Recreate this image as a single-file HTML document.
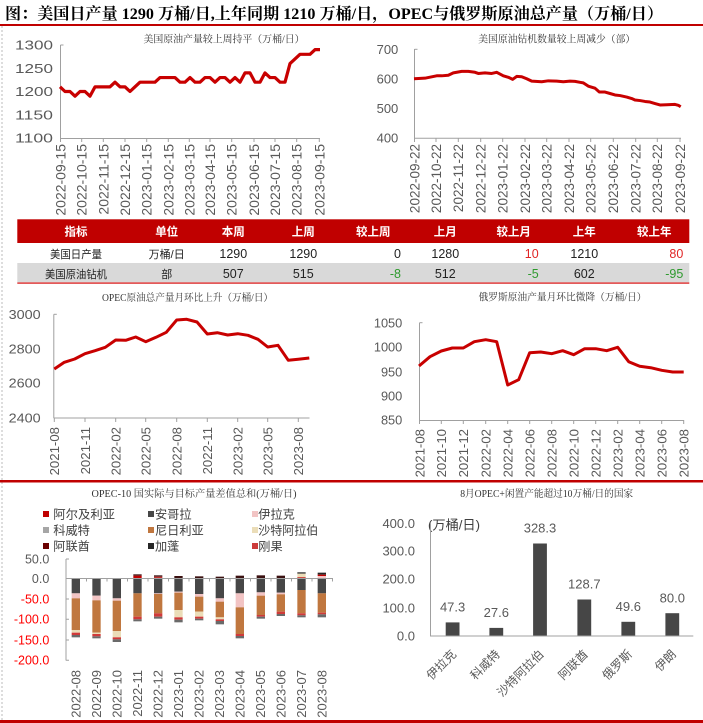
<!DOCTYPE html>
<html><head><meta charset="utf-8">
<style>
html,body{margin:0;padding:0;background:#fff;}
svg{display:block;}
.s{font-family:"Liberation Sans","Noto Sans CJK SC",sans-serif;}
.sf{font-family:"Liberation Serif","Noto Serif CJK SC",serif;}
</style></head>
<body>
<svg width="703" height="723" viewBox="0 0 703 723" xmlns="http://www.w3.org/2000/svg">
<rect x="0" y="0" width="703" height="723" fill="#fff"/>
<!-- Title -->
<text class="sf" x="5" y="19" font-size="16" font-weight="bold" fill="#000" textLength="658" lengthAdjust="spacingAndGlyphs">图：美国日产量 1290 万桶/日,上年同期 1210 万桶/日，OPEC与俄罗斯原油总产量（万桶/日）</text>
<rect x="0" y="24" width="703" height="2" fill="#C00000"/>
<line x1="2" y1="26" x2="2" y2="720" stroke="#BBBBBB" stroke-width="1" stroke-dasharray="2,2"/>

<!-- ============ Top-left chart ============ -->
<text class="sf" x="224" y="42.5" font-size="10" fill="#333" text-anchor="middle" textLength="161" lengthAdjust="spacingAndGlyphs">美国原油产量较上周持平（万桶/日）</text>
<g class="s" font-size="13" fill="#595959" text-anchor="end">
<text x="53" y="49.7" textLength="38" lengthAdjust="spacingAndGlyphs">1300</text>
<text x="53" y="72.9" textLength="38" lengthAdjust="spacingAndGlyphs">1250</text>
<text x="53" y="96.2" textLength="38" lengthAdjust="spacingAndGlyphs">1200</text>
<text x="53" y="119.4" textLength="38" lengthAdjust="spacingAndGlyphs">1150</text>
<text x="53" y="142.7" textLength="38" lengthAdjust="spacingAndGlyphs">1100</text>
</g>
<g stroke="#A0A0A0" stroke-width="1" fill="none">
<line x1="60.5" y1="45" x2="60.5" y2="138"/>
<line x1="60.5" y1="45" x2="63.5" y2="45"/>
<line x1="60" y1="138.5" x2="320" y2="138.5"/>
<path d="M60.5 138v4M81.7 138v4M103.3 138v4M125 138v4M146.7 138v4M168.3 138v4M189.3 138v4M210 138v4M231.7 138v4M254 138v4M275 138v4M296.7 138v4M319.3 138v4"/>
</g>
<g class="s" font-size="14" fill="#595959" text-anchor="end">
<text transform="translate(60.5,144) rotate(-90)" dy="0.36em">2022-09-15</text>
<text transform="translate(81.7,144) rotate(-90)" dy="0.36em">2022-10-15</text>
<text transform="translate(103.3,144) rotate(-90)" dy="0.36em">2022-11-15</text>
<text transform="translate(125,144) rotate(-90)" dy="0.36em">2022-12-15</text>
<text transform="translate(146.7,144) rotate(-90)" dy="0.36em">2023-01-15</text>
<text transform="translate(168.3,144) rotate(-90)" dy="0.36em">2023-02-15</text>
<text transform="translate(189.3,144) rotate(-90)" dy="0.36em">2023-03-15</text>
<text transform="translate(210,144) rotate(-90)" dy="0.36em">2023-04-15</text>
<text transform="translate(231.7,144) rotate(-90)" dy="0.36em">2023-05-15</text>
<text transform="translate(254,144) rotate(-90)" dy="0.36em">2023-06-15</text>
<text transform="translate(275,144) rotate(-90)" dy="0.36em">2023-07-15</text>
<text transform="translate(296.7,144) rotate(-90)" dy="0.36em">2023-08-15</text>
<text transform="translate(319.3,144) rotate(-90)" dy="0.36em">2023-09-15</text>
</g>
<polyline fill="none" stroke="#C80000" stroke-width="3.2" stroke-linejoin="round" points="60,86.85 65,91.5 70,91.5 75,96.15 80,91.5 85,91.5 90,96.15 95,86.85 100,86.85 105,86.85 110,86.85 115,82.2 120,86.85 125,86.85 130,91.5 135,86.85 140,82.2 145,82.2 150,82.2 155,82.2 160,77.55 165,77.55 170,77.55 175,77.55 180,82.2 185,82.2 190,77.55 195,82.2 200,82.2 205,77.55 210,77.55 215,82.2 220,77.55 225,77.55 230,82.2 235,77.55 240,82.2 245,72.9 250,72.9 255,82.2 260,82.2 265,72.9 270,77.55 275,77.55 280,82.2 285,82.2 290,63.6 295,58.95 300,54.3 305,54.3 310,54.3 315,49.65 320,49.65"/>

<!-- ============ Top-right chart ============ -->
<text class="sf" x="556.7" y="42.5" font-size="10" fill="#333" text-anchor="middle" textLength="157" lengthAdjust="spacingAndGlyphs">美国原油钻机数量较上周减少（部）</text>
<g class="s" font-size="13" fill="#595959" text-anchor="end">
<text x="398.3" y="54">700</text>
<text x="398.3" y="83.5">600</text>
<text x="398.3" y="113">500</text>
<text x="398.3" y="142.4">400</text>
</g>
<g stroke="#A0A0A0" stroke-width="1" fill="none">
<line x1="414.5" y1="49" x2="414.5" y2="138"/>
<line x1="414.5" y1="49.3" x2="417.5" y2="49.3"/>
<line x1="414" y1="138.2" x2="681" y2="138.2"/>
<path d="M414.5 138v4M436 138v4M458.3 138v4M480.7 138v4M502.7 138v4M525 138v4M546.7 138v4M569 138v4M590.7 138v4M613.3 138v4M635.7 138v4M657.3 138v4M680 138v4"/>
</g>
<g class="s" font-size="13.5" fill="#595959" text-anchor="end">
<text transform="translate(414.5,144) rotate(-90)" dy="0.36em">2022-09-22</text>
<text transform="translate(436,144) rotate(-90)" dy="0.36em">2022-10-22</text>
<text transform="translate(458.3,144) rotate(-90)" dy="0.36em">2022-11-22</text>
<text transform="translate(480.7,144) rotate(-90)" dy="0.36em">2022-12-22</text>
<text transform="translate(502.7,144) rotate(-90)" dy="0.36em">2023-01-22</text>
<text transform="translate(525,144) rotate(-90)" dy="0.36em">2023-02-22</text>
<text transform="translate(546.7,144) rotate(-90)" dy="0.36em">2023-03-22</text>
<text transform="translate(569,144) rotate(-90)" dy="0.36em">2023-04-22</text>
<text transform="translate(590.7,144) rotate(-90)" dy="0.36em">2023-05-22</text>
<text transform="translate(613.3,144) rotate(-90)" dy="0.36em">2023-06-22</text>
<text transform="translate(635.7,144) rotate(-90)" dy="0.36em">2023-07-22</text>
<text transform="translate(657.3,144) rotate(-90)" dy="0.36em">2023-08-22</text>
<text transform="translate(680,144) rotate(-90)" dy="0.36em">2023-09-22</text>
</g>
<polyline fill="none" stroke="#C80000" stroke-width="3" stroke-linejoin="round" points="414,78.76 425,78.17 436.7,75.81 441.7,75.81 448.3,75.22 453.3,72.87 461.7,71.39 468.3,71.39 475,72.28 478.3,73.46 485,72.87 491.7,73.46 496.7,72.28 503.3,75.81 508.3,77.29 512.7,79.35 516.7,76.4 521.7,76.7 526.7,78.76 531.7,81.12 541.7,81.71 548.3,80.82 556.7,81.12 563.3,81.71 570,81.12 575,81.41 580,82.3 583.3,82.89 588.3,86.13 595,88.19 599.3,92.02 605,92.02 610,93.5 615,94.97 620,95.56 626.7,97.03 631.7,98.51 635,99.98 640,100.57 645,101.45 650,102.04 655,103.51 660,104.99 666.7,104.69 675,104.4 678.3,105.28 680.7,106.76"/>

<!-- ============ Table ============ -->
<rect x="17.3" y="219.3" width="672" height="23.7" fill="#C00000"/>
<rect x="17.3" y="263" width="672" height="19.3" fill="#D9D9D9"/>
<rect x="17.3" y="282.3" width="672" height="1.6" fill="#E04848"/>
<g class="s" font-size="11.5" font-weight="bold" fill="#fff" text-anchor="middle">
<text x="76" y="235.6">指标</text>
<text x="166.7" y="235.6">单位</text>
<text x="233.3" y="235.6">本周</text>
<text x="303.3" y="235.6">上周</text>
<text x="373.3" y="235.6">较上周</text>
<text x="445.3" y="235.6">上月</text>
<text x="513.7" y="235.6">较上月</text>
<text x="584.3" y="235.6">上年</text>
<text x="654.3" y="235.6">较上年</text>
</g>
<g class="s" font-size="11" fill="#222" text-anchor="middle">
<text x="76" y="257.8" textLength="52" lengthAdjust="spacingAndGlyphs">美国日产量</text>
<text x="166.7" y="257.8">万桶/日</text>
<text x="76" y="277.8" textLength="62" lengthAdjust="spacingAndGlyphs">美国原油钻机</text>
<text x="166.7" y="277.8">部</text>
</g>
<g class="s" font-size="12.5" fill="#222" text-anchor="middle">
<text x="233.3" y="258.2">1290</text>
<text x="303.3" y="258.2">1290</text>
<text x="445.3" y="258.2">1280</text>
<text x="584.3" y="258.2">1210</text>
<text x="233.3" y="278.2">507</text>
<text x="303.3" y="278.2">515</text>
<text x="445.3" y="278.2">512</text>
<text x="584.3" y="278.2">602</text>
</g>
<g class="s" font-size="12.5" text-anchor="end">
<text x="401" y="258.2" fill="#222">0</text>
<text x="538.7" y="258.2" fill="#E02525">10</text>
<text x="683.3" y="258.2" fill="#E02525">80</text>
<text x="401" y="278.2" fill="#2E9A2E">-8</text>
<text x="538.7" y="278.2" fill="#2E9A2E">-5</text>
<text x="683.3" y="278.2" fill="#2E9A2E">-95</text>
</g>

<!-- ============ Middle-left chart ============ -->
<text class="sf" x="187.5" y="300.8" font-size="10" fill="#333" text-anchor="middle" textLength="171" lengthAdjust="spacingAndGlyphs">OPEC原油总产量月环比上升（万桶/日）</text>
<g class="s" font-size="13" fill="#595959" text-anchor="end">
<text x="40.7" y="319" textLength="32" lengthAdjust="spacingAndGlyphs">3000</text>
<text x="40.7" y="353.4" textLength="32" lengthAdjust="spacingAndGlyphs">2800</text>
<text x="40.7" y="387.7" textLength="32" lengthAdjust="spacingAndGlyphs">2600</text>
<text x="40.7" y="422.4" textLength="32" lengthAdjust="spacingAndGlyphs">2400</text>
</g>
<g stroke="#A0A0A0" stroke-width="1" fill="none">
<line x1="53.8" y1="314.3" x2="53.8" y2="418"/>
<line x1="53.8" y1="314.3" x2="56.8" y2="314.3"/>
<line x1="53.5" y1="418" x2="309.5" y2="418"/>
<path d="M54.3 418v4M85 418v4M115.7 418v4M145.7 418v4M176.7 418v4M207.3 418v4M237.7 418v4M267.7 418v4M298.3 418v4"/>
</g>
<g class="s" font-size="13.2" fill="#595959" text-anchor="end">
<text transform="translate(54.3,427) rotate(-90)" dy="0.36em">2021-08</text>
<text transform="translate(85,427) rotate(-90)" dy="0.36em">2021-11</text>
<text transform="translate(115.7,427) rotate(-90)" dy="0.36em">2022-02</text>
<text transform="translate(145.7,427) rotate(-90)" dy="0.36em">2022-05</text>
<text transform="translate(176.7,427) rotate(-90)" dy="0.36em">2022-08</text>
<text transform="translate(207.3,427) rotate(-90)" dy="0.36em">2022-11</text>
<text transform="translate(237.7,427) rotate(-90)" dy="0.36em">2023-02</text>
<text transform="translate(267.7,427) rotate(-90)" dy="0.36em">2023-05</text>
<text transform="translate(298.3,427) rotate(-90)" dy="0.36em">2023-08</text>
</g>
<polyline fill="none" stroke="#C80000" stroke-width="3" stroke-linejoin="round" points="54.3,369 64.3,362.3 74.7,359 85,353.7 95,350.7 105.3,347.3 115.7,340 125.7,340.3 135.7,337 145.7,341.7 156,337.3 166.3,332.3 176.7,320 186.7,319.3 197,322 207.3,334 217.3,332.7 227.7,335 237.7,333.7 248,335.3 258,339.3 267.7,347 278,345.3 288.3,360.3 298.3,359.3 309.3,358"/>

<!-- ============ Middle-right chart ============ -->
<text class="sf" x="562.5" y="300.5" font-size="10" fill="#333" text-anchor="middle" textLength="168" lengthAdjust="spacingAndGlyphs">俄罗斯原油产量月环比微降（万桶/日）</text>
<g class="s" font-size="12.8" fill="#595959" text-anchor="end">
<text x="402.3" y="327.3">1050</text>
<text x="402.3" y="351.6">1000</text>
<text x="402.3" y="376.3">950</text>
<text x="402.3" y="400.3">900</text>
<text x="402.3" y="424.6">850</text>
</g>
<g stroke="#A0A0A0" stroke-width="1" fill="none">
<line x1="419.5" y1="322.7" x2="419.5" y2="420.5"/>
<line x1="419.5" y1="322.7" x2="422.5" y2="322.7"/>
<line x1="419" y1="420.5" x2="684" y2="420.5"/>
<path d="M419.5 420v4M441.3 420v4M463.3 420v4M485.7 420v4M507.7 420v4M529.7 420v4M551.7 420v4M573.7 420v4M595.7 420v4M617.7 420v4M639.7 420v4M661.7 420v4M683.7 420v4"/>
</g>
<g class="s" font-size="13.2" fill="#595959" text-anchor="end">
<text transform="translate(419.5,429) rotate(-90)" dy="0.36em">2021-08</text>
<text transform="translate(441.3,429) rotate(-90)" dy="0.36em">2021-10</text>
<text transform="translate(463.3,429) rotate(-90)" dy="0.36em">2021-12</text>
<text transform="translate(485.7,429) rotate(-90)" dy="0.36em">2022-02</text>
<text transform="translate(507.7,429) rotate(-90)" dy="0.36em">2022-04</text>
<text transform="translate(529.7,429) rotate(-90)" dy="0.36em">2022-06</text>
<text transform="translate(551.7,429) rotate(-90)" dy="0.36em">2022-08</text>
<text transform="translate(573.7,429) rotate(-90)" dy="0.36em">2022-10</text>
<text transform="translate(595.7,429) rotate(-90)" dy="0.36em">2022-12</text>
<text transform="translate(617.7,429) rotate(-90)" dy="0.36em">2023-02</text>
<text transform="translate(639.7,429) rotate(-90)" dy="0.36em">2023-04</text>
<text transform="translate(661.7,429) rotate(-90)" dy="0.36em">2023-06</text>
<text transform="translate(683.7,429) rotate(-90)" dy="0.36em">2023-08</text>
</g>
<polyline fill="none" stroke="#C80000" stroke-width="3" stroke-linejoin="round" points="419,366 430,356.7 441.3,351 452.3,348 463.3,348 474.3,341.7 485.7,339.7 496.7,341.7 507.7,385 518.7,379.7 529.7,352.7 540.7,352 551.7,353.7 562.7,350.7 573.7,354.7 584.7,348.7 595.7,348.7 606.7,350.7 617.7,347.3 628.7,361.7 639.7,366.3 650.7,367.7 661.7,370.3 672.7,372 683.7,372"/>

<rect x="0" y="480" width="703" height="2.5" fill="#C00000"/>

<!-- ============ Bottom-left chart ============ -->
<text class="sf" x="194" y="496.8" font-size="10" fill="#333" text-anchor="middle" textLength="205" lengthAdjust="spacingAndGlyphs">OPEC-10 国实际与目标产量差值总和(万桶/日)</text>
<!-- legend -->
<rect x="43" y="511" width="6" height="6" fill="#C00000"/>
<rect x="148" y="511" width="6" height="6" fill="#474747"/>
<rect x="252" y="511" width="6" height="6" fill="#F2C4C4"/>
<rect x="43" y="527" width="6" height="6" fill="#A6A6A6"/>
<rect x="148" y="527" width="6" height="6" fill="#C0773F"/>
<rect x="252" y="527" width="6" height="6" fill="#EBDDB8"/>
<rect x="43" y="543" width="6" height="6" fill="#6B0000"/>
<rect x="148" y="543" width="6" height="6" fill="#262626"/>
<rect x="252" y="543" width="6" height="6" fill="#CC3B3B"/>
<g class="s" font-size="12.2" fill="#404040">
<text x="53.3" y="518.3" textLength="61.7" lengthAdjust="spacingAndGlyphs">阿尔及利亚</text>
<text x="155" y="518.3">安哥拉</text>
<text x="258.3" y="518.3">伊拉克</text>
<text x="53.3" y="534.3">科威特</text>
<text x="155" y="534.3">尼日利亚</text>
<text x="258.3" y="534.3" textLength="60" lengthAdjust="spacingAndGlyphs">沙特阿拉伯</text>
<text x="53.3" y="550.3">阿联酋</text>
<text x="155" y="550.3">加蓬</text>
<text x="258.3" y="550.3">刚果</text>
</g>
<g class="s" font-size="12.5" text-anchor="end">
<text x="49.3" y="563.4" fill="#595959">50.0</text>
<text x="49.3" y="583.1" fill="#595959">0.0</text>
<text x="49.3" y="603.4" fill="#FF0000">-50.0</text>
<text x="49.3" y="623.7" fill="#FF0000">-100.0</text>
<text x="49.3" y="644.4" fill="#FF0000">-150.0</text>
<text x="49.3" y="664.7" fill="#FF0000">-200.0</text>
</g>
<g transform="translate(60,560) scale(0.33333)">
<!-- bar 1 -->
<g transform="translate(35,0)">
<rect y="55" width="25" height="45" fill="#474747"/><rect y="100" width="25" height="15" fill="#F2C4C4"/><rect y="115" width="25" height="95" fill="#C0773F"/><rect y="210" width="25" height="8" fill="#EBDDB8"/><rect y="218" width="25" height="7" fill="#D03A3A"/><rect y="225" width="25" height="7" fill="#6A6A6A"/>
</g>
<g transform="translate(97,0)">
<rect y="55" width="25" height="52" fill="#474747"/><rect y="107" width="25" height="14" fill="#F2C4C4"/><rect y="121" width="25" height="97" fill="#C0773F"/><rect y="218" width="25" height="4" fill="#EBDDB8"/><rect y="222" width="25" height="7" fill="#D03A3A"/><rect y="229" width="25" height="6" fill="#6A6A6A"/>
</g>
<g transform="translate(158,0)">
<rect y="55" width="25" height="60" fill="#474747"/><rect y="115" width="25" height="7" fill="#F2C4C4"/><rect y="122" width="25" height="91" fill="#C0773F"/><rect y="213" width="25" height="19" fill="#EBDDB8"/><rect y="232" width="25" height="6" fill="#D03A3A"/><rect y="238" width="25" height="8" fill="#6A6A6A"/>
</g>
<g transform="translate(220,0)">
<rect y="43" width="25" height="4" fill="#3A1010"/><rect y="47" width="25" height="8" fill="#C00000"/>
<rect y="55" width="25" height="45" fill="#474747"/><rect y="100" width="25" height="70" fill="#C0773F"/><rect y="170" width="25" height="8" fill="#D03A3A"/><rect y="178" width="25" height="6" fill="#6A6A6A"/>
</g>
<g transform="translate(282,0)">
<rect y="46" width="25" height="4" fill="#3A1010"/><rect y="50" width="25" height="5" fill="#C03030"/>
<rect y="55" width="25" height="45" fill="#474747"/><rect y="100" width="25" height="2" fill="#F2C4C4"/><rect y="102" width="25" height="58" fill="#C0773F"/><rect y="160" width="25" height="10" fill="#D03A3A"/><rect y="170" width="25" height="6" fill="#6A6A6A"/>
</g>
<g transform="translate(343,0)">
<rect y="48" width="25" height="7" fill="#3A1010"/>
<rect y="55" width="25" height="40" fill="#474747"/><rect y="95" width="25" height="3" fill="#F2C4C4"/><rect y="98" width="25" height="52" fill="#C0773F"/><rect y="150" width="25" height="22" fill="#EBDDB8"/><rect y="172" width="25" height="7" fill="#D03A3A"/><rect y="179" width="25" height="8" fill="#6A6A6A"/>
</g>
<g transform="translate(405,0)">
<rect y="49" width="25" height="6" fill="#3A1010"/>
<rect y="55" width="25" height="47" fill="#474747"/><rect y="102" width="25" height="8" fill="#F2C4C4"/><rect y="110" width="25" height="45" fill="#C0773F"/><rect y="155" width="25" height="15" fill="#EBDDB8"/><rect y="170" width="25" height="6" fill="#D03A3A"/><rect y="176" width="25" height="5" fill="#6A6A6A"/>
</g>
<g transform="translate(467,0)">
<rect y="50" width="25" height="5" fill="#3A1010"/>
<rect y="55" width="25" height="60" fill="#474747"/><rect y="115" width="25" height="10" fill="#F2C4C4"/><rect y="125" width="25" height="47" fill="#C0773F"/><rect y="172" width="25" height="6" fill="#EBDDB8"/><rect y="178" width="25" height="5" fill="#D03A3A"/><rect y="183" width="25" height="10" fill="#6A6A6A"/>
</g>
<g transform="translate(527,0)">
<rect y="47" width="25" height="8" fill="#3A1010"/>
<rect y="55" width="25" height="45" fill="#474747"/><rect y="100" width="25" height="42" fill="#F2C4C4"/><rect y="142" width="25" height="80" fill="#C0773F"/><rect y="222" width="25" height="6" fill="#D03A3A"/><rect y="228" width="25" height="7" fill="#6A6A6A"/>
</g>
<g transform="translate(590,0)">
<rect y="46" width="25" height="9" fill="#3A1010"/>
<rect y="55" width="25" height="42" fill="#474747"/><rect y="97" width="25" height="10" fill="#F2C4C4"/><rect y="107" width="25" height="58" fill="#C0773F"/><rect y="165" width="25" height="5" fill="#D03A3A"/><rect y="170" width="25" height="6" fill="#6A6A6A"/>
</g>
<g transform="translate(650,0)">
<rect y="47" width="25" height="8" fill="#3A1010"/>
<rect y="55" width="25" height="43" fill="#474747"/><rect y="98" width="25" height="5" fill="#F2C4C4"/><rect y="103" width="25" height="52" fill="#C0773F"/><rect y="155" width="25" height="7" fill="#D03A3A"/><rect y="162" width="25" height="6" fill="#6A6A6A"/>
</g>
<g transform="translate(712,0)">
<rect y="37" width="25" height="4" fill="#262626"/><rect y="41" width="25" height="11" fill="#EBDDB8"/><rect y="52" width="25" height="3" fill="#C00000"/>
<rect y="55" width="25" height="35" fill="#474747"/><rect y="90" width="25" height="70" fill="#C0773F"/><rect y="160" width="25" height="6" fill="#D03A3A"/><rect y="166" width="25" height="6" fill="#6A6A6A"/>
</g>
<g transform="translate(773,0)">
<rect y="38" width="25" height="6" fill="#262626"/><rect y="44" width="25" height="4" fill="#C00000"/><rect y="48" width="25" height="7" fill="#F2C4C4"/>
<rect y="55" width="25" height="45" fill="#474747"/><rect y="100" width="25" height="58" fill="#C0773F"/><rect y="158" width="25" height="5" fill="#D03A3A"/><rect y="163" width="25" height="9" fill="#6A6A6A"/>
</g>
</g>
<g stroke="#A0A0A0" stroke-width="1" fill="none">
<line x1="66" y1="559" x2="66" y2="660.5"/>
<path d="M66 559h3M66 599h3M66 619.3h3M66 640h3M66 660.3h3"/>
<line x1="66" y1="578.5" x2="333" y2="578.5"/>
<path d="M86.5 578.5v3M107 578.5v3M127.5 578.5v3M148 578.5v3M168.5 578.5v3M189 578.5v3M209.5 578.5v3M230 578.5v3M250.5 578.5v3M271 578.5v3M291.5 578.5v3M312 578.5v3M332.5 578.5v3"/>
</g>
<g class="s" font-size="13" fill="#595959" text-anchor="end">
<text transform="translate(76,670) rotate(-90)" dy="0.36em">2022-08</text>
<text transform="translate(96.5,670) rotate(-90)" dy="0.36em">2022-09</text>
<text transform="translate(117,670) rotate(-90)" dy="0.36em">2022-10</text>
<text transform="translate(137.5,670) rotate(-90)" dy="0.36em">2022-11</text>
<text transform="translate(158,670) rotate(-90)" dy="0.36em">2022-12</text>
<text transform="translate(178.5,670) rotate(-90)" dy="0.36em">2023-01</text>
<text transform="translate(199,670) rotate(-90)" dy="0.36em">2023-02</text>
<text transform="translate(219.5,670) rotate(-90)" dy="0.36em">2023-03</text>
<text transform="translate(240,670) rotate(-90)" dy="0.36em">2023-04</text>
<text transform="translate(260.5,670) rotate(-90)" dy="0.36em">2023-05</text>
<text transform="translate(281,670) rotate(-90)" dy="0.36em">2023-06</text>
<text transform="translate(301.5,670) rotate(-90)" dy="0.36em">2023-07</text>
<text transform="translate(322,670) rotate(-90)" dy="0.36em">2023-08</text>
</g>

<!-- ============ Bottom-right chart ============ -->
<text class="sf" x="546.7" y="496.8" font-size="10" fill="#333" text-anchor="middle" textLength="173" lengthAdjust="spacingAndGlyphs">8月OPEC+闲置产能超过10万桶/日的国家</text>
<g class="s" font-size="13" fill="#595959" text-anchor="end">
<text x="415" y="528">400.0</text>
<text x="415" y="555.7">300.0</text>
<text x="415" y="583.7">200.0</text>
<text x="415" y="612.4">100.0</text>
<text x="415" y="640.4">0.0</text>
</g>
<text class="s" x="428" y="529.7" font-size="13.2" fill="#404040">(万桶/日)</text>
<g fill="#464646">
<rect x="445.7" y="622.4" width="13.8" height="13.3"/>
<rect x="489.4" y="627.9" width="13.8" height="7.8"/>
<rect x="533.1" y="543.5" width="13.8" height="92.2"/>
<rect x="577.4" y="599.5" width="13.8" height="36.2"/>
<rect x="621.4" y="621.8" width="13.8" height="13.9"/>
<rect x="665.4" y="613.2" width="13.8" height="22.5"/>
</g>
<g stroke="#A0A0A0" stroke-width="1" fill="none">
<line x1="430.5" y1="523" x2="430.5" y2="636"/>
<line x1="430" y1="636" x2="693.3" y2="636"/>
</g>
<g class="s" font-size="13" fill="#595959" text-anchor="middle">
<text x="452.6" y="611.5">47.3</text>
<text x="496.3" y="617">27.6</text>
<text x="540" y="532.3">328.3</text>
<text x="584.3" y="588.5">128.7</text>
<text x="628.3" y="611">49.6</text>
<text x="672.3" y="602.3">80.0</text>
</g>
<g class="s" font-size="12" fill="#595959" text-anchor="end">
<text transform="translate(457,655) rotate(-45)">伊拉克</text>
<text transform="translate(500.8,655) rotate(-45)">科威特</text>
<text transform="translate(544.5,655) rotate(-45)">沙特阿拉伯</text>
<text transform="translate(588.8,655) rotate(-45)">阿联酋</text>
<text transform="translate(632.8,655) rotate(-45)">俄罗斯</text>
<text transform="translate(676.8,655) rotate(-45)">伊朗</text>
</g>

<rect x="0" y="720" width="703" height="3" fill="#C00000"/>
</svg>
</body></html>
